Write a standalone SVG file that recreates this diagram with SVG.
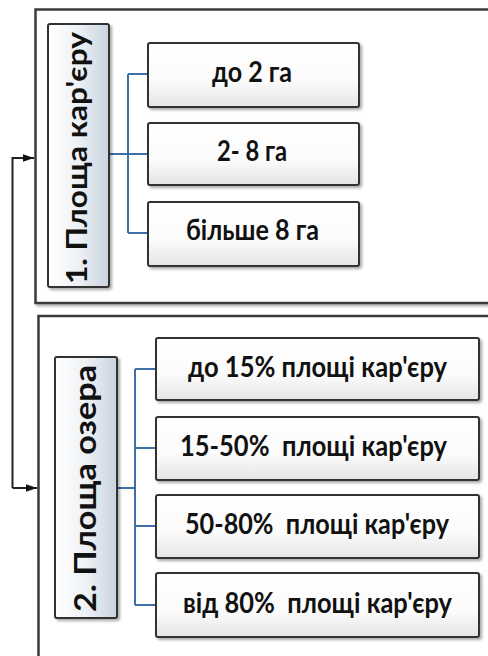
<svg xmlns="http://www.w3.org/2000/svg" width="488" height="656" viewBox="0 0 488 656">
  <defs>
    <linearGradient id="boxFill" x1="0" y1="0" x2="0" y2="1">
      <stop offset="0" stop-color="#ffffff"/>
      <stop offset="0.6" stop-color="#fbfbfb"/>
      <stop offset="1" stop-color="#e4e4e4"/>
    </linearGradient>
    <linearGradient id="labelFill" x1="0" y1="0" x2="1" y2="0">
      <stop offset="0" stop-color="#ffffff"/>
      <stop offset="0.5" stop-color="#eef1f5"/>
      <stop offset="1" stop-color="#c9d3df"/>
    </linearGradient>
    <filter id="shadow" x="-10%" y="-10%" width="130%" height="140%">
      <feGaussianBlur in="SourceAlpha" stdDeviation="1.5"/>
      <feOffset dx="1.5" dy="2" result="b"/>
      <feComponentTransfer><feFuncA type="linear" slope="0.35"/></feComponentTransfer>
      <feMerge><feMergeNode/><feMergeNode in="SourceGraphic"/></feMerge>
    </filter>
    <marker id="arrow" viewBox="0 0 10 10" refX="10" refY="5" markerWidth="11" markerHeight="11" markerUnits="userSpaceOnUse" orient="auto">
      <path d="M0,1.5 L10,5 L0,8.5 Z" fill="#111"/>
    </marker>
  </defs>
  <style>
    .frame { fill: #ffffff; stroke: #3a3a3a; stroke-width: 2.5; }
    .box { fill: url(#boxFill); stroke: #333; stroke-width: 2; }
    .label { fill: url(#labelFill); stroke: #333; stroke-width: 2; }
    .t { font-family: Lato, "Noto Sans", "Liberation Sans", sans-serif; font-weight: bold; font-size: 28px; fill: #111; text-anchor: middle; white-space: pre; }
    .lt { font-family: Lato, "Noto Sans", "Liberation Sans", sans-serif; font-weight: bold; fill: #111; text-anchor: middle; }
    .conn { fill: none; stroke: #3f6fa8; stroke-width: 2; }
    .arr { fill: none; stroke: #222; stroke-width: 2; }
  </style>

  <rect width="488" height="656" fill="#ffffff"/>

  <g id="frame1">
    <rect class="frame" x="35.5" y="9.5" width="480" height="293.5" filter="url(#shadow)"/>
  </g>
  <g id="frame2">
    <rect class="frame" x="38.5" y="316" width="480" height="380" filter="url(#shadow)"/>
  </g>

  <g id="connectors">
    <path class="arr" d="M12.5,488 L12.5,158 L34,158" marker-end="url(#arrow)"/>
    <path class="arr" d="M12.5,488 L37,488" marker-end="url(#arrow)"/>
    <path class="conn" d="M109,154 L148,154 M128,74 L128,233 M128,74 L148,74 M128,233 L148,233"/>
    <path class="conn" d="M117,488 L135,488 M135,369 L135,605 M135,369 L156,369 M135,448 L156,448 M135,526 L156,526 M135,605 L156,605"/>
  </g>

  <g id="label1">
    <rect class="label" x="48" y="24" width="61" height="263" rx="2" filter="url(#shadow)"/>
    <text class="lt" font-size="28" transform="translate(87,158) rotate(-90)" textLength="252" lengthAdjust="spacingAndGlyphs">1. Площа кар'єру</text>
  </g>
  <g id="n1a">
    <rect class="box" x="148" y="43" width="211" height="64" rx="2" filter="url(#shadow)"/>
    <text class="t" x="252" y="82" textLength="80" lengthAdjust="spacingAndGlyphs">до 2 га</text>
  </g>
  <g id="n1b">
    <rect class="box" x="148" y="123" width="211" height="62" rx="2" filter="url(#shadow)"/>
    <text class="t" x="252" y="161" textLength="70" lengthAdjust="spacingAndGlyphs">2- 8 га</text>
  </g>
  <g id="n1c">
    <rect class="box" x="148" y="202" width="211" height="64" rx="2" filter="url(#shadow)"/>
    <text class="t" x="252.5" y="240" textLength="133" lengthAdjust="spacingAndGlyphs">більше 8 га</text>
  </g>

  <g id="label2">
    <rect class="label" x="55" y="357" width="62" height="261" rx="2" filter="url(#shadow)"/>
    <text class="lt" font-size="31" transform="translate(96,488.5) rotate(-90)" textLength="247" lengthAdjust="spacingAndGlyphs">2. Площа озера</text>
  </g>
  <g id="n2a">
    <rect class="box" x="156" y="338" width="323" height="62" rx="2" filter="url(#shadow)"/>
    <text class="t" x="317.5" y="377" textLength="259" lengthAdjust="spacingAndGlyphs">до 15% площі кар'єру</text>
  </g>
  <g id="n2b">
    <rect class="box" x="156" y="417" width="323" height="63" rx="2" filter="url(#shadow)"/>
    <text class="t" x="313.5" y="456" textLength="267" lengthAdjust="spacingAndGlyphs" xml:space="preserve">15-50%  площі кар'єру</text>
  </g>
  <g id="n2c">
    <rect class="box" x="156" y="495" width="323" height="63" rx="2" filter="url(#shadow)"/>
    <text class="t" x="317" y="534" textLength="264" lengthAdjust="spacingAndGlyphs" xml:space="preserve">50-80%  площі кар'єру</text>
  </g>
  <g id="n2d">
    <rect class="box" x="156" y="573" width="323" height="64" rx="2" filter="url(#shadow)"/>
    <text class="t" x="317.5" y="613" textLength="269" lengthAdjust="spacingAndGlyphs" xml:space="preserve">від 80%  площі кар'єру</text>
  </g>
</svg>
